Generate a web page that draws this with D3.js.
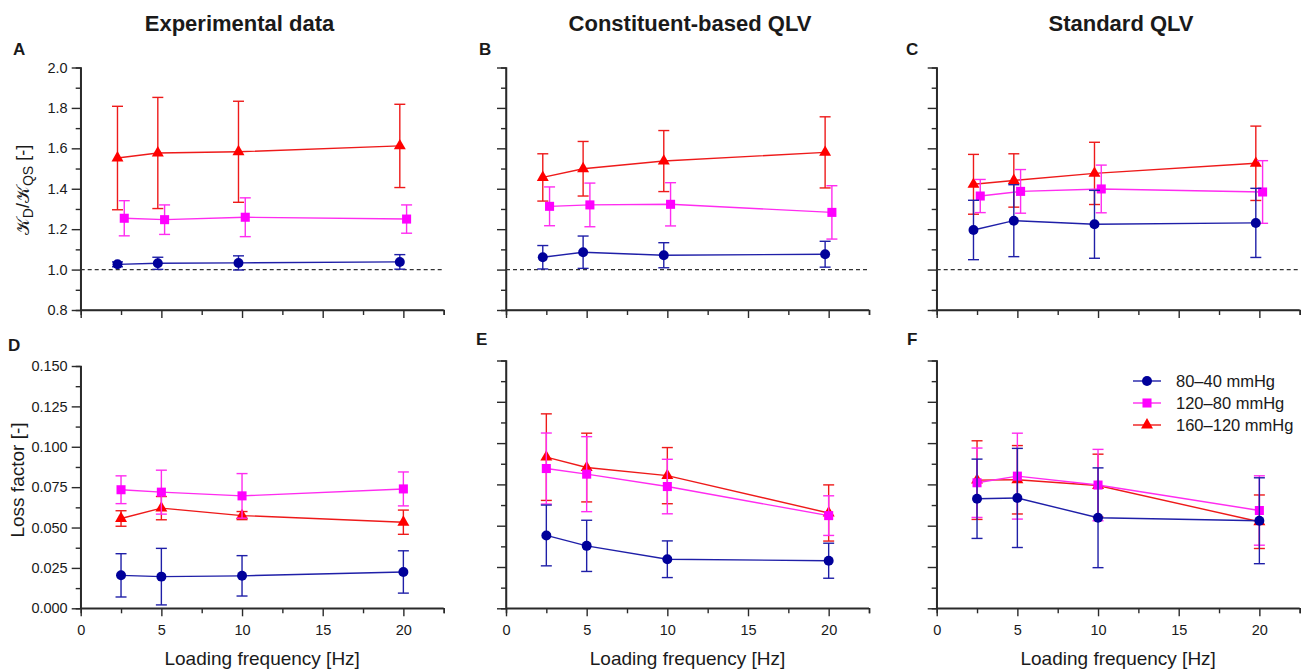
<!DOCTYPE html>
<html>
<head>
<meta charset="utf-8">
<script src="https://cdn.jsdelivr.net/npm/d3@7"></script>
<style>
  body { margin: 0; background: #fff; }
  text { font-family: "Liberation Sans", Arial, sans-serif; fill: #1a1a1a; }
</style>
</head>
<body>
<svg id="fig" width="1312" height="669"></svg>
<script>
// ---- data -------------------------------------------------------------
const frequencies = [2.5, 5, 10, 20];
const seriesNames = ["80–40 mmHg", "120–80 mmHg", "160–120 mmHg"];
const columnTitles = ["Experimental data", "Constituent-based QLV", "Standard QLV"];
const panelLetters = ["A", "B", "C", "D", "E", "F"];
const xTickLabels = [0, 5, 10, 15, 20];
const ratioTicks = [0.8, 1.0, 1.2, 1.4, 1.6, 1.8, 2.0];
const lossTicks = [0, 0.025, 0.05, 0.075, 0.1, 0.125, 0.15];

// stiffness ratio KD/KQS, rows = 80–40, 120–80, 160–120 mmHg
const expRatioMean = [[1.026, 1.031, 1.033, 1.038], [1.254, 1.247, 1.259, 1.250], [1.552, 1.577, 1.583, 1.612]];
const expRatioSD   = [[0.012, 0.030, 0.035, 0.036], [0.087, 0.073, 0.096, 0.070], [0.256, 0.275, 0.250, 0.206]];
const cbRatioMean  = [[1.061, 1.086, 1.071, 1.076], [1.313, 1.320, 1.323, 1.283], [1.456, 1.499, 1.537, 1.580]];
const cbRatioSD    = [[0.058, 0.080, 0.062, 0.064], [0.096, 0.108, 0.107, 0.132], [0.117, 0.135, 0.151, 0.176]];
const stdRatioMean = [[1.196, 1.242, 1.224, 1.231], [1.364, 1.387, 1.399, 1.384], [1.422, 1.441, 1.476, 1.526]];
const stdRatioSD   = [[0.147, 0.178, 0.168, 0.171], [0.082, 0.108, 0.118, 0.155], [0.148, 0.132, 0.154, 0.184]];

// loss factor
const expLossMean = [[0.0204, 0.0196, 0.0201, 0.0225], [0.0734, 0.0719, 0.0696, 0.0739], [0.0556, 0.0620, 0.0574, 0.0533]];
const expLossSD   = [[0.0134, 0.0175, 0.0125, 0.0131], [0.0086, 0.0136, 0.0138, 0.0105], [0.0048, 0.0072, 0.0025, 0.0075]];
const cbLossMean  = [[0.0441, 0.0378, 0.0297, 0.0288], [0.0846, 0.0812, 0.0737, 0.0561], [0.0915, 0.0852, 0.0803, 0.0577]];
const cbLossSD    = [[0.0184, 0.0155, 0.0111, 0.0106], [0.0215, 0.0227, 0.0165, 0.0120], [0.0262, 0.0208, 0.0170, 0.0170]];
const stdLossMean = [[0.0663, 0.0668, 0.0548, 0.0530], [0.0760, 0.0800, 0.0746, 0.0592], [0.0776, 0.0778, 0.0743, 0.0524]];
const stdLossSD   = [[0.0240, 0.0300, 0.0302, 0.0260], [0.0210, 0.0260, 0.0216, 0.0210], [0.0238, 0.0207, 0.0190, 0.0162]];

// ---- styling ----------------------------------------------------------
const markerColors = ["#00009a", "#ff00ff", "#ff0000"];
const lineColors   = ["#1f1fa8", "#ff2cf0", "#ee1a1a"];
const symbols = [d3.symbolCircle, d3.symbolSquare, d3.symbolTriangle];
const symbolSizes = [78, 82, 62];
const axisColor = "#2a2a2a";

const svg = d3.select("#fig");

// panel geometry
const colX = [[80.7, 443.7], [506, 869], [936.7, 1299.7]];
const topY = [310, 67.5];
const bottomY = [[608.3, 366], [608.3, 360.5], [608.3, 360.5]];

const panels = [
  { col: 0, row: 0, mean: expRatioMean, sd: expRatioSD },
  { col: 1, row: 0, mean: cbRatioMean,  sd: cbRatioSD },
  { col: 2, row: 0, mean: stdRatioMean, sd: stdRatioSD },
  { col: 0, row: 1, mean: expLossMean,  sd: expLossSD },
  { col: 1, row: 1, mean: cbLossMean,   sd: cbLossSD },
  { col: 2, row: 1, mean: stdLossMean,  sd: stdLossSD }
];

const letterPos = [[13, 55], [479, 55], [906, 55], [8, 351], [476, 345], [907, 345]];
const titleX = [239.5, 690, 1121];

// column titles
columnTitles.forEach((t, i) => {
  svg.append("text").attr("x", titleX[i]).attr("y", 31)
    .attr("text-anchor", "middle").attr("font-size", 22).attr("font-weight", "bold")
    .text(t);
});

function styleAxis(g) {
  g.select(".domain").attr("stroke", axisColor).attr("stroke-width", 1.5);
  g.selectAll(".tick line").attr("stroke", axisColor).attr("stroke-width", 1.4);
  g.selectAll(".tick text").attr("font-size", 14.5).style("fill", "#1a1a1a");
}

panels.forEach((p, idx) => {
  const x = d3.scaleLinear().domain([0, 22.5]).range(colX[p.col]);
  const y = p.row === 0
    ? d3.scaleLinear().domain([0.8, 2.0]).range(topY)
    : d3.scaleLinear().domain([0, 0.15]).range(bottomY[p.col]);
  const y0 = y.range()[0];
  const g = svg.append("g");

  // x axis: minor ticks every 2.5, labelled majors only in the lower row
  const xMinor = d3.range(0, 22.51, 2.5).filter(v => v % 5 !== 0);
  const gxm = g.append("g").attr("transform", `translate(0,${y0})`)
    .call(d3.axisBottom(x).tickValues(xMinor).tickSize(5).tickFormat(""));
  styleAxis(gxm);
  const gx = g.append("g").attr("transform", `translate(0,${y0})`)
    .call(d3.axisBottom(x).tickValues(xTickLabels).tickSize(8).tickPadding(8)
      .tickFormat(p.row === 1 ? d3.format("d") : ""));
  styleAxis(gx);
  gx.select(".domain").attr("d", `M${x(0)},0H${x(22.5)}`);

  // y axis
  const majors = p.row === 0 ? ratioTicks : lossTicks;
  const step = majors[1] - majors[0];
  const minors = majors.slice(0, -1).map(v => v + step / 2);
  const gym = g.append("g").attr("transform", `translate(${x(0)},0)`)
    .call(d3.axisLeft(y).tickValues(minors).tickSize(5).tickFormat(""));
  styleAxis(gym);
  const fmt = p.row === 0 ? d3.format(".1f") : d3.format(".3f");
  const gy = g.append("g").attr("transform", `translate(${x(0)},0)`)
    .call(d3.axisLeft(y).tickValues(majors).tickSize(9).tickPadding(4)
      .tickFormat(p.col === 0 ? fmt : ""));
  styleAxis(gy);
  gy.select(".domain").attr("d", `M0,${y.range()[1]}V${y0}`);

  // reference line at ratio = 1
  if (p.row === 0) {
    g.append("line")
      .attr("x1", x(0)).attr("x2", x(22.5)).attr("y1", y(1)).attr("y2", y(1))
      .attr("stroke", "#333").attr("stroke-width", 1.2).attr("stroke-dasharray", "4,3");
  }

  // small horizontal offsets in the ratio row keep overlapping bars apart
  const dodge = p.row === 0 ? [-0.22, 0.2, -0.22] : [0, 0, 0];

  [2, 1, 0].forEach(s => {
    const pts = frequencies.map((f, i) => ({ f: f + dodge[s], m: p.mean[s][i], e: p.sd[s][i] }));
    const sg = g.append("g");
    sg.append("path").datum(pts)
      .attr("fill", "none").attr("stroke", lineColors[s]).attr("stroke-width", 1.4)
      .attr("d", d3.line().x(d => x(d.f)).y(d => y(d.m)));
    const eb = sg.selectAll(".eb").data(pts).join("g")
      .attr("stroke", lineColors[s]).attr("stroke-width", 1.4);
    eb.append("line").attr("x1", d => x(d.f)).attr("x2", d => x(d.f))
      .attr("y1", d => y(d.m - d.e)).attr("y2", d => y(d.m + d.e));
    eb.append("line").attr("x1", d => x(d.f) - 5.5).attr("x2", d => x(d.f) + 5.5)
      .attr("y1", d => y(d.m + d.e)).attr("y2", d => y(d.m + d.e));
    eb.append("line").attr("x1", d => x(d.f) - 5.5).attr("x2", d => x(d.f) + 5.5)
      .attr("y1", d => y(d.m - d.e)).attr("y2", d => y(d.m - d.e));
    sg.selectAll(".mk").data(pts).join("path")
      .attr("transform", d => `translate(${x(d.f)},${y(d.m)})`)
      .attr("d", d3.symbol(symbols[s], symbolSizes[s]))
      .attr("fill", markerColors[s]);
  });

  // x axis title in lower row
  if (p.row === 1) {
    svg.append("text").attr("x", (colX[p.col][0] + colX[p.col][1]) / 2).attr("y", 665)
      .attr("text-anchor", "middle").attr("font-size", 19)
      .text("Loading frequency [Hz]");
  }

  svg.append("text").attr("x", letterPos[idx][0]).attr("y", letterPos[idx][1])
    .attr("font-size", 17).attr("font-weight", "bold").text(panelLetters[idx]);
});

// y axis titles
const yl1 = svg.append("text")
  .attr("transform", "translate(29,190) rotate(-90)")
  .attr("text-anchor", "middle").attr("font-size", 18);
yl1.append("tspan").text("𝒦");
yl1.append("tspan").attr("font-size", 14).attr("dy", 4).text("D");
yl1.append("tspan").attr("dy", -4).text("/𝒦");
yl1.append("tspan").attr("font-size", 14).attr("dy", 4).text("QS");
yl1.append("tspan").attr("dy", -4).text(" [-]");

svg.append("text")
  .attr("transform", "translate(24,480) rotate(-90)")
  .attr("text-anchor", "middle").attr("font-size", 19)
  .text("Loss factor [-]");

// legend
const legend = svg.append("g").attr("transform", "translate(1133,381)");
seriesNames.forEach((name, s) => {
  const row = legend.append("g").attr("transform", `translate(0,${s * 22})`);
  row.append("line").attr("x1", 0).attr("x2", 28).attr("stroke", lineColors[s]).attr("stroke-width", 1.4);
  row.append("path").attr("transform", "translate(14,0)")
    .attr("d", d3.symbol(symbols[s], symbolSizes[s])).attr("fill", markerColors[s]);
  row.append("text").attr("x", 43).attr("y", 0).attr("dy", "0.35em")
    .attr("font-size", 16.5).text(name);
});
</script>
</body>
</html>
